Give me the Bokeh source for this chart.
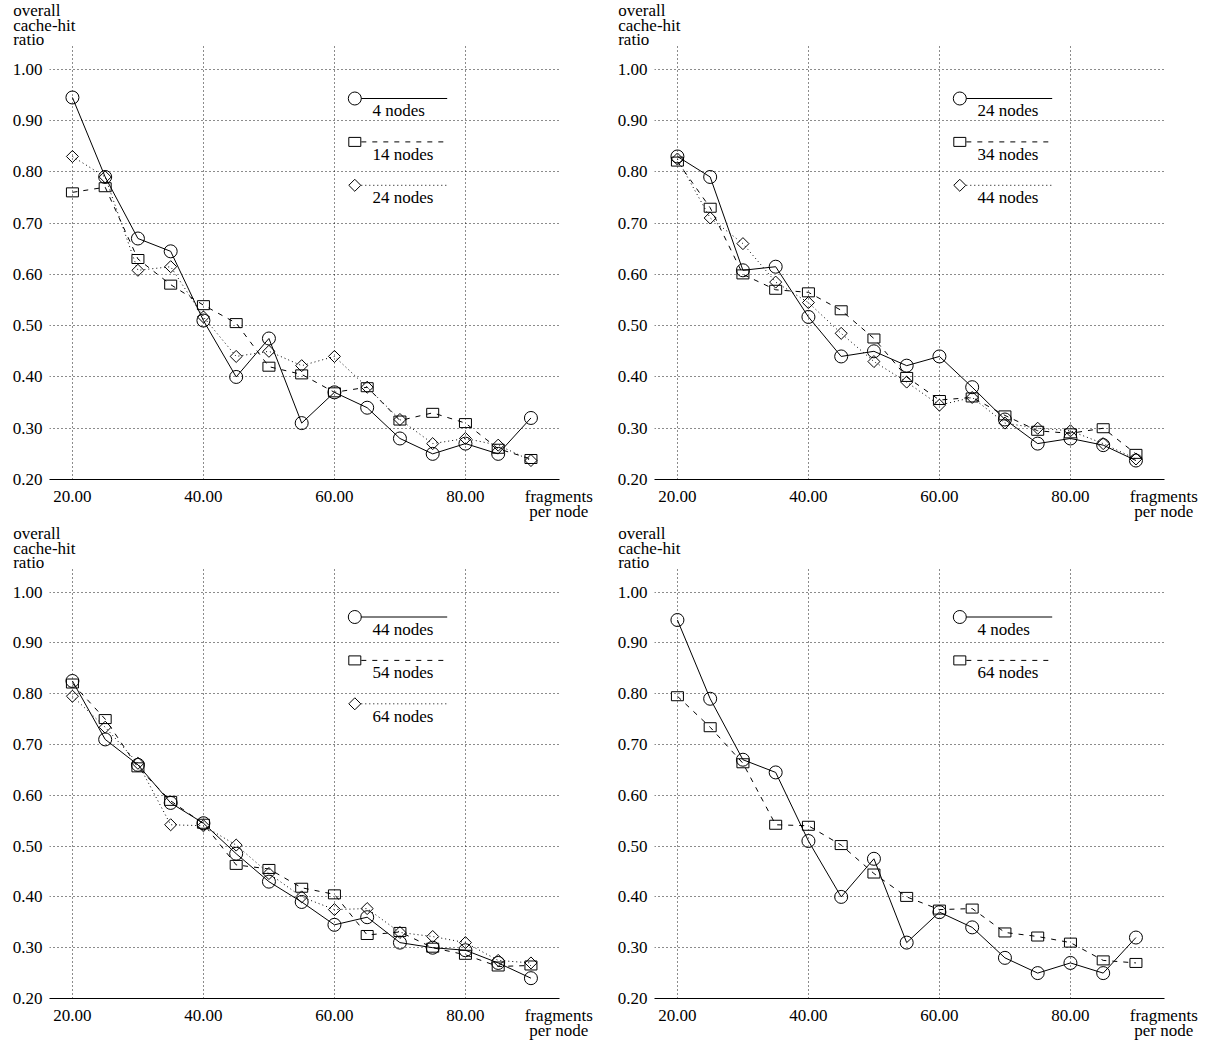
import numpy as np
from bokeh.plotting import figure
from bokeh.layouts import gridplot
from bokeh.models import Range1d, FixedTicker, NumeralTickFormatter, Label, Title
from bokeh.embed import file_html
from bokeh.resources import INLINE

# ---------------- data ----------------
fragments = [20, 25, 30, 35, 40, 45, 50, 55, 60, 65, 70, 75, 80, 85, 90]

n4 = [0.945, 0.79, 0.67, 0.645, 0.51, 0.40, 0.475, 0.31, 0.37, 0.34, 0.28, 0.25, 0.27, 0.25, 0.32]
n14 = [0.76, 0.77, 0.63, 0.58, 0.54, 0.505, 0.42, 0.405, 0.37, 0.38, 0.315, 0.33, 0.31, 0.26, 0.24]
n24 = [0.83, 0.79, 0.608, 0.615, 0.517, 0.44, 0.45, 0.422, 0.44, 0.38, 0.317, 0.27, 0.28, 0.267, 0.237]
n34 = [0.82, 0.73, 0.60, 0.57, 0.565, 0.53, 0.475, 0.40, 0.355, 0.36, 0.325, 0.295, 0.29, 0.30, 0.25]
n44 = [0.825, 0.71, 0.66, 0.585, 0.545, 0.485, 0.43, 0.39, 0.345, 0.36, 0.31, 0.30, 0.295, 0.27, 0.24]
n54 = [0.82, 0.75, 0.655, 0.589, 0.544, 0.463, 0.455, 0.418, 0.405, 0.325, 0.331, 0.30, 0.286, 0.263, 0.265]
n64 = [0.795, 0.734, 0.663, 0.542, 0.54, 0.502, 0.446, 0.40, 0.375, 0.377, 0.33, 0.322, 0.31, 0.275, 0.27]

x_ticks = [20, 40, 60, 80]
y_ticks = [0.2, 0.3, 0.4, 0.5, 0.6, 0.7, 0.8, 0.9, 1.0]

panels = [
    [("4 nodes", n4), ("14 nodes", n14), ("24 nodes", n24)],
    [("24 nodes", n24), ("34 nodes", n34), ("44 nodes", n44)],
    [("44 nodes", n44), ("54 nodes", n54), ("64 nodes", n64)],
    [("4 nodes", n4), ("64 nodes", n64)],
]

y_title = "overall\ncache-hit\nratio"
x_title = "fragments\nper node"

# ---------------- layout ----------------
X0, X1 = 16.5, 94.36
Y0, Y1 = 0.2, 1.0464
X_TITLE_AT = 94.25
FRAME_W = 510
BORDER_L = 49
FIG_W = [605, 599]
# per row: (border top, frame height, border bottom, legend first-row offset)
ROWS = [(45, 434, 45, 53.0), (44, 430, 45, 48.5)]
FONT = "Liberation Serif"
FSIZE = "17px"
LH_X = 0.82
LH_T = 0.76

LINE_DASH = ["solid", "5 6", "1 3"]


def draw_marker(p, kind, xs, ys):
    if kind == 0:
        p.scatter(xs, ys, marker="circle", size=13, fill_color=None,
                  line_color="black", line_width=1)
    elif kind == 1:
        p.rect(xs, ys, width=12, height=9, width_units="screen",
               height_units="screen", fill_color=None, line_color="black",
               line_width=1)
    else:
        p.scatter(xs, ys, marker="square", size=8.5, angle=np.pi / 4,
                  fill_color=None, line_color="black", line_width=1)


def make_panel(series, fig_w, row):
    b_top, frame_h, b_bot, leg0 = row

    def dx(px):
        return X0 + px * (X1 - X0) / FRAME_W

    def dy(py):
        return Y1 - py * (Y1 - Y0) / frame_h

    p = figure(width=fig_w, height=b_top + frame_h + b_bot, output_backend="svg",
               toolbar_location=None, title=None,
               x_range=Range1d(X0, X1), y_range=Range1d(Y0, Y1),
               min_border_left=BORDER_L, min_border_right=fig_w - BORDER_L - FRAME_W,
               min_border_top=b_top, min_border_bottom=b_bot)
    p.outline_line_color = None
    p.background_fill_color = "white"
    p.border_fill_color = "white"

    xa = p.xaxis[0]
    xa.ticker = FixedTicker(ticks=x_ticks + [X_TITLE_AT])
    xa.formatter = NumeralTickFormatter(format="0.00")
    xa.major_label_overrides = {X_TITLE_AT: x_title}
    xa.axis_line_color = "black"
    xa.axis_line_width = 1
    xa.major_tick_line_color = None
    xa.minor_tick_line_color = None
    xa.major_tick_out = 0
    xa.major_label_standoff = 7
    xa.major_label_text_font = FONT
    xa.major_label_text_font_size = FSIZE
    xa.major_label_text_color = "black"
    xa.major_label_text_line_height = LH_X

    ya = p.yaxis[0]
    ya.ticker = FixedTicker(ticks=y_ticks)
    ya.formatter = NumeralTickFormatter(format="0.00")
    ya.axis_line_color = None
    ya.major_tick_line_color = None
    ya.minor_tick_line_color = None
    ya.major_tick_out = 0
    ya.major_label_standoff = 7
    ya.major_label_text_font = FONT
    ya.major_label_text_font_size = FSIZE
    ya.major_label_text_color = "black"

    p.xgrid[0].ticker = FixedTicker(ticks=x_ticks)
    for g in (p.xgrid[0], p.ygrid[0]):
        g.grid_line_color = "black"
        g.grid_line_dash = "1 3"
        g.grid_line_width = 1
        g.grid_line_alpha = 0.9

    # data series
    for k, (name, vals) in enumerate(series):
        p.line(fragments, vals, line_color="black", line_width=1,
               line_dash=LINE_DASH[k])
        draw_marker(p, k, fragments, vals)

    # legend (marker, line to the right, text below)
    for k, (name, vals) in enumerate(series):
        ry = leg0 + k * 43.4
        mx = 305.3
        p.line([dx(mx + 6.5), dx(397.7)], [dy(ry), dy(ry)], line_color="black",
               line_width=1, line_dash=LINE_DASH[k])
        draw_marker(p, k, [dx(mx)], [dy(ry)])
        p.add_layout(Label(x=dx(323), y=dy(ry + 12.4), text=name,
                           text_font=FONT, text_font_size=FSIZE,
                           text_align="left", text_baseline="middle",
                           text_color="black"))

    # y axis title, top-left
    p.add_layout(Title(text=y_title, align="left", offset=-36.3, standoff=-7,
                       text_font=FONT, text_font_size=FSIZE,
                       text_font_style="normal", text_color="black",
                       text_line_height=LH_T), "above")
    return p


figs = [make_panel(s, FIG_W[i % 2], ROWS[i // 2]) for i, s in enumerate(panels)]
grid = gridplot([[figs[0], figs[1]], [figs[2], figs[3]]], toolbar_location=None)

open("out.html", "w").write(file_html(grid, INLINE))
